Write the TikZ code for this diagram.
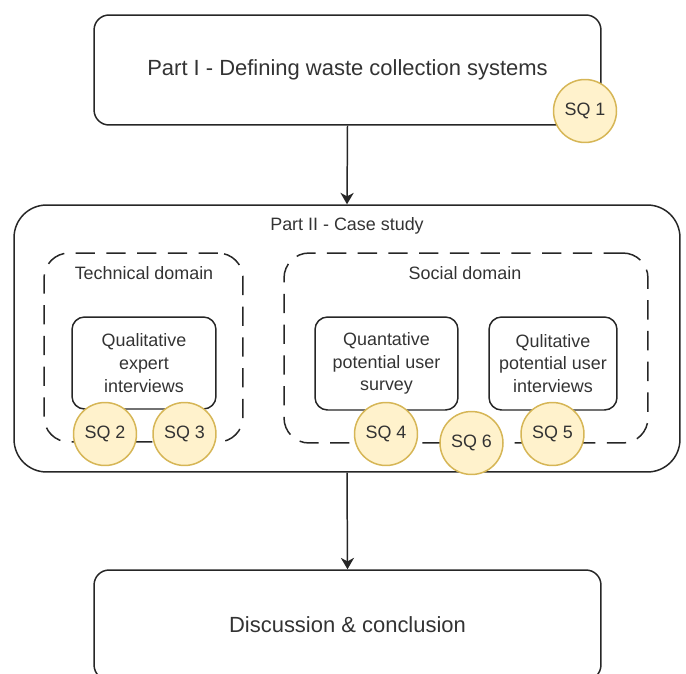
\documentclass[tikz,border=0pt]{standalone}
\usepackage{fontspec}
\setmainfont{Liberation Sans}
\usetikzlibrary{arrows.meta}
\definecolor{sqfill}{HTML}{FFF2CC}
\definecolor{sqdraw}{HTML}{D6B656}
\definecolor{txt}{HTML}{333333}
\newcommand{\bigtxt}{\fontsize{12.5}{15}\selectfont}
\newcommand{\smalltxt}{\fontsize{10.2}{13}\selectfont}

\begin{document}
\begin{tikzpicture}[x=0.02cm, y=-0.02cm,
    block/.style={draw=black!85, line width=0.85pt, text=txt, align=center,
      inner sep=0pt},
    domainbox/.style={block, dash pattern=on 11pt off 6.5pt, rounded corners=0.5cm},
    sq/.style={circle, draw=sqdraw, fill=sqfill, line width=0.85pt,
      minimum size=1.26cm, inner sep=0pt, text=txt, font=\smalltxt},
    flow/.style={line width=0.85pt, draw=black!85,
      -{Stealth[length=6.5pt, width=7.5pt, inset=2pt]}}
  ]
  \useasboundingbox (0,0) rectangle (686,673);
  \clip (0,0) rectangle (686,673);

  \node[block, rounded corners=0.3cm, minimum width=10.14cm, minimum height=2.2cm,
    font=\bigtxt] (partone) at (347.5,70) {Part I - Defining waste collection systems};

  \node[block, rounded corners=0.65cm, minimum width=13.32cm, minimum height=5.34cm]
    (parttwo) at (347,338.5) {};
  \node[text=txt, font=\smalltxt] (parttwolabel) at (347,226) {Part II - Case study};

  % domains
  \node[domainbox, minimum width=3.98cm, minimum height=3.78cm] (techdom) at (143.5,347.5) {};
  \node[text=txt, font=\smalltxt] (techlabel) at (144,273) {Technical domain};
  \node[domainbox, minimum width=7.28cm, minimum height=3.8cm] (socdom) at (466,348) {};
  \node[text=txt, font=\smalltxt] (soclabel) at (465,273) {Social domain};

  \node[block, rounded corners=0.25cm, minimum width=2.88cm, minimum height=1.84cm,
    font=\smalltxt] (expint) at (144,363) {Qualitative\\expert\\interviews};
  \node[block, rounded corners=0.25cm, minimum width=2.86cm, minimum height=1.86cm,
    font=\smalltxt] (usersurvey) at (386.5,363.5) {Quantative\\potential user\\survey};
  \node[block, rounded corners=0.25cm, minimum width=2.56cm, minimum height=1.86cm,
    font=\smalltxt] (userint) at (553,363.5) {Qulitative\\potential user\\interviews};

  \node[block, rounded corners=0.3cm, minimum width=10.14cm, minimum height=2.2cm,
    font=\bigtxt] (discussion) at (347.5,625) {Discussion \& conclusion};

  \draw[flow] (partone.south) -- (parttwo.north);
  \draw[flow] (parttwo.south) -- (discussion.north);

  % sub-questions
  \node[sq] (sqone) at (585,111) {SQ 1};
  \node[sq] (sqtwo) at (105,434) {SQ 2};
  \node[sq] (sqthree) at (184.5,434) {SQ 3};
  \node[sq] (sqfour) at (386,434) {SQ 4};
  \node[sq] (sqsix) at (471.5,443) {SQ 6};
  \node[sq] (sqfive) at (552.5,434) {SQ 5};

\end{tikzpicture}
\end{document}
